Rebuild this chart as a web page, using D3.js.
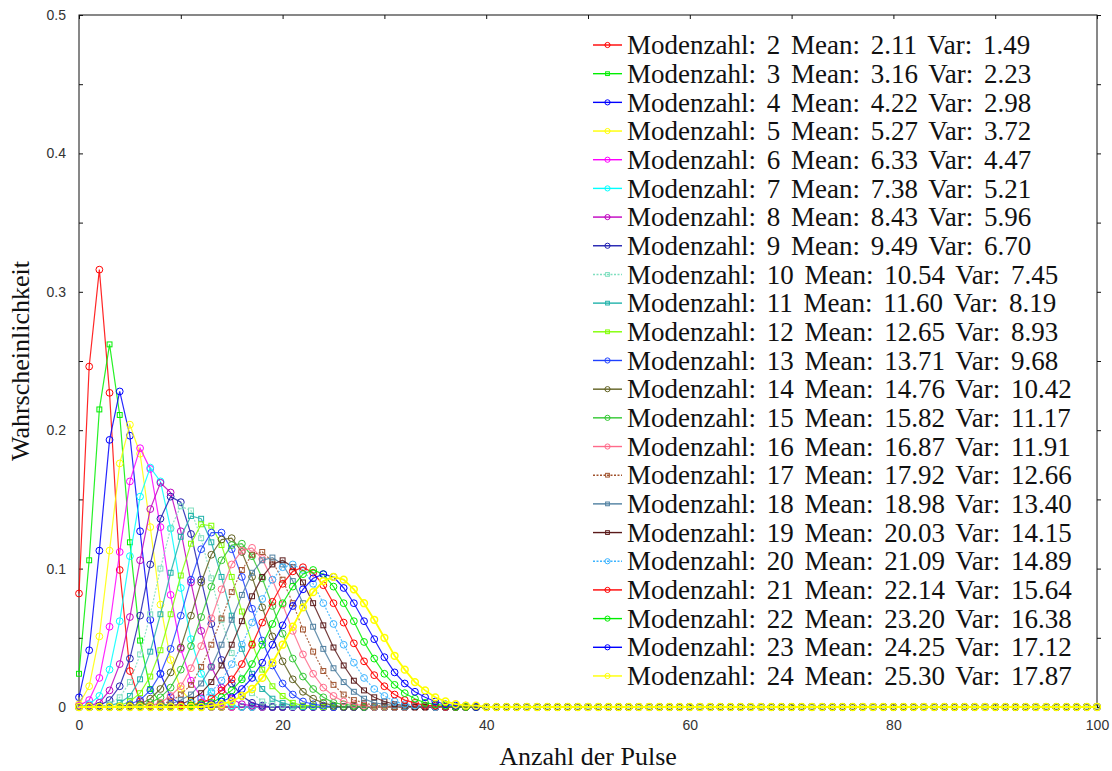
<!DOCTYPE html>
<html>
<head>
<meta charset="utf-8">
<script src="https://cdn.jsdelivr.net/npm/d3@7/dist/d3.min.js"></script>
<style>
  html, body { margin: 0; padding: 0; background: #fff; }
  svg { display: block; }
  .tick text { font-family: "Liberation Sans", Arial, sans-serif; font-size: 14px; fill: #333; }
  .legend text, .title { font-family: "Liberation Serif", "Times New Roman", serif; fill: #111; }
</style>
</head>
<body>
<svg id="chart" width="1112" height="771"></svg>
<script>
// Mode counts shown in the legend, with the stated mean and variance
const modes = [2, 3, 4, 5, 6, 7, 8, 9, 10, 11, 12, 13, 14, 15, 16, 17, 18, 19, 20, 21, 22, 23, 24];
const means = ["2.11", "3.16", "4.22", "5.27", "6.33", "7.38", "8.43", "9.49", "10.54", "11.60", "12.65", "13.71",
               "14.76", "15.82", "16.87", "17.92", "18.98", "20.03", "21.09", "22.14", "23.20", "24.25", "25.30"];
const variances = ["1.49", "2.23", "2.98", "3.72", "4.47", "5.21", "5.96", "6.70", "7.45", "8.19", "8.93", "9.68",
                   "10.42", "11.17", "11.91", "12.66", "13.40", "14.15", "14.89", "15.64", "16.38", "17.12", "17.87"];

// Pulse counts on the x axis (0 … 100)
const pulses = d3.range(0, 101);
const xTicks = [0, 20, 40, 60, 80, 100];
const yTicks = [0, 0.1, 0.2, 0.3, 0.4, 0.5];

// Probability per pulse count, starting at 0 pulses; counts past the list have probability 0
const pMode2  = [0.082, 0.246, 0.316, 0.227, 0.099, 0.026, 0.004];
const pMode3  = [0.024, 0.106, 0.215, 0.262, 0.211, 0.119, 0.048, 0.013, 0.003];
const pMode4  = [0.007, 0.041, 0.113, 0.193, 0.228, 0.196, 0.127, 0.063, 0.024, 0.007, 0.002];
const pMode5  = [0.002, 0.015, 0.051, 0.113, 0.176, 0.204, 0.183, 0.130, 0.074, 0.034, 0.013, 0.004, 0.001];
const pMode6  = [0.001, 0.005, 0.021, 0.058, 0.112, 0.163, 0.187, 0.172, 0.130, 0.081, 0.042, 0.019, 0.007, 0.002, 0.001];
const pMode7  = [0, 0.002, 0.008, 0.027, 0.062, 0.109, 0.152, 0.173, 0.163, 0.129, 0.086, 0.049, 0.024, 0.010, 0.004, 0.001];
const pMode8  = [0, 0.001, 0.003, 0.012, 0.031, 0.065, 0.106, 0.143, 0.162, 0.155, 0.127, 0.090, 0.055, 0.029, 0.014, 0.006, 0.002, 0.001];
const pMode9  = [0, 0, 0.001, 0.005, 0.015, 0.035, 0.066, 0.103, 0.136, 0.152, 0.148, 0.125, 0.092, 0.060, 0.034, 0.017, 0.008, 0.003, 0.001];
const pMode10 = [0, 0, 0, 0.002, 0.007, 0.018, 0.038, 0.067, 0.100, 0.129, 0.145, 0.142, 0.122, 0.093, 0.063, 0.039, 0.021, 0.010, 0.004, 0.002, 0.001];
const pMode11 = [0, 0, 0, 0.001, 0.003, 0.008, 0.020, 0.040, 0.067, 0.097, 0.123, 0.138, 0.136, 0.119, 0.094, 0.066, 0.042, 0.024, 0.013, 0.006, 0.003, 0.001];
const pMode12 = [0, 0, 0, 0, 0.001, 0.004, 0.010, 0.022, 0.041, 0.067, 0.095, 0.118, 0.132, 0.131, 0.117, 0.094, 0.069, 0.046, 0.027, 0.015, 0.008, 0.003, 0.001, 0.001];
const pMode13 = [0, 0, 0, 0, 0, 0.002, 0.005, 0.012, 0.024, 0.042, 0.066, 0.092, 0.114, 0.126, 0.126, 0.114, 0.094, 0.071, 0.048, 0.030, 0.017, 0.009, 0.004, 0.002, 0.001];
const pMode14 = [0, 0, 0, 0, 0, 0.001, 0.002, 0.006, 0.013, 0.025, 0.043, 0.066, 0.090, 0.110, 0.121, 0.122, 0.112, 0.094, 0.072, 0.051, 0.033, 0.020, 0.011, 0.006, 0.003, 0.001];
const pMode15 = [0, 0, 0, 0, 0, 0, 0.001, 0.003, 0.007, 0.014, 0.027, 0.044, 0.065, 0.087, 0.106, 0.117, 0.118, 0.109, 0.093, 0.073, 0.053, 0.035, 0.022, 0.013, 0.007, 0.003, 0.002, 0.001];
const pMode16 = [0, 0, 0, 0, 0, 0, 0, 0.001, 0.003, 0.008, 0.015, 0.028, 0.044, 0.064, 0.085, 0.103, 0.113, 0.115, 0.107, 0.092, 0.074, 0.055, 0.038, 0.024, 0.014, 0.008, 0.004, 0.002, 0.001];
const pMode17 = [0, 0, 0, 0, 0, 0, 0, 0.001, 0.002, 0.004, 0.009, 0.016, 0.029, 0.045, 0.064, 0.083, 0.099, 0.110, 0.112, 0.105, 0.092, 0.075, 0.056, 0.040, 0.026, 0.016, 0.009, 0.005, 0.003, 0.001, 0.001];
const pMode18 = [0, 0, 0, 0, 0, 0, 0, 0, 0.001, 0.002, 0.005, 0.009, 0.017, 0.029, 0.045, 0.063, 0.081, 0.097, 0.106, 0.108, 0.103, 0.091, 0.075, 0.058, 0.042, 0.028, 0.018, 0.011, 0.006, 0.003, 0.002, 0.001];
const pMode19 = [0, 0, 0, 0, 0, 0, 0, 0, 0, 0.001, 0.002, 0.005, 0.010, 0.018, 0.030, 0.045, 0.062, 0.080, 0.094, 0.103, 0.106, 0.101, 0.090, 0.075, 0.059, 0.043, 0.030, 0.019, 0.012, 0.007, 0.004, 0.002, 0.001];
const pMode20 = [0, 0, 0, 0, 0, 0, 0, 0, 0, 0, 0.001, 0.003, 0.006, 0.011, 0.019, 0.031, 0.045, 0.061, 0.078, 0.092, 0.101, 0.103, 0.099, 0.089, 0.075, 0.060, 0.045, 0.032, 0.021, 0.013, 0.008, 0.004, 0.002, 0.001, 0.001];
const pMode21 = [0, 0, 0, 0, 0, 0, 0, 0, 0, 0, 0.001, 0.001, 0.003, 0.006, 0.012, 0.020, 0.031, 0.045, 0.061, 0.076, 0.089, 0.098, 0.101, 0.097, 0.088, 0.075, 0.061, 0.046, 0.033, 0.023, 0.015, 0.009, 0.005, 0.003, 0.001, 0.001];
const pMode22 = [0, 0, 0, 0, 0, 0, 0, 0, 0, 0, 0, 0.001, 0.002, 0.003, 0.007, 0.012, 0.020, 0.031, 0.045, 0.060, 0.075, 0.087, 0.096, 0.099, 0.096, 0.087, 0.075, 0.062, 0.047, 0.035, 0.024, 0.016, 0.010, 0.006, 0.003, 0.002, 0.001];
const pMode23 = [0, 0, 0, 0, 0, 0, 0, 0, 0, 0, 0, 0, 0.001, 0.002, 0.004, 0.007, 0.013, 0.021, 0.032, 0.045, 0.059, 0.073, 0.085, 0.093, 0.096, 0.094, 0.086, 0.075, 0.062, 0.049, 0.036, 0.025, 0.017, 0.011, 0.007, 0.004, 0.002, 0.001, 0.001];
const pMode24 = [0, 0, 0, 0, 0, 0, 0, 0, 0, 0, 0, 0, 0, 0.001, 0.002, 0.004, 0.008, 0.013, 0.021, 0.032, 0.045, 0.058, 0.072, 0.083, 0.091, 0.094, 0.092, 0.085, 0.075, 0.063, 0.050, 0.037, 0.027, 0.018, 0.012, 0.007, 0.004, 0.002, 0.001, 0.001];

const seriesValues = [pMode2, pMode3, pMode4, pMode5, pMode6, pMode7, pMode8, pMode9, pMode10, pMode11, pMode12,
                      pMode13, pMode14, pMode15, pMode16, pMode17, pMode18, pMode19, pMode20, pMode21, pMode22, pMode23, pMode24];

// Styling per series
const colors = ["#ff0000", "#00ee00", "#0000ff", "#ffff00", "#ff00ff", "#00ffff", "#c000c0", "#2020b0",
                "#7fdfbf", "#20b2aa", "#7fff00", "#1e40ff", "#606020", "#32c832", "#ff6a8a", "#a0522d",
                "#4f7fa0", "#5a1a1a", "#3cb4ff", "#ff0000", "#00ee00", "#0000ff", "#ffff00"];
const squareMarker = new Set([3, 10, 11, 12, 17, 18, 19]);
const dottedLine = new Set([10, 17, 20]);

const svg = d3.select("#chart");
const margin = { left: 79, right: 1097, top: 15, bottom: 707 };

const x = d3.scaleLinear().domain([0, 100]).range([margin.left, margin.right]);
const y = d3.scaleLinear().domain([0, 0.5]).range([margin.bottom, margin.top]);

// Axes: labelled ticks plus small inner ticks on all four sides
const fmt = d3.format("~g");
const isLabelledX = d => xTicks.includes(d);
const isLabelledY = d => yTicks.some(t => Math.abs(t - d) < 1e-9);

svg.append("g")
  .attr("transform", `translate(0,${margin.bottom})`)
  .call(d3.axisBottom(x).tickValues(d3.range(0, 101, 10)).tickSize(-4).tickPadding(13)
        .tickFormat(d => isLabelledX(d) ? fmt(d) : ""))
  .call(g => g.select(".domain").remove())
  .call(g => g.selectAll(".tick line").attr("stroke", "#111"));

svg.append("g")
  .attr("transform", `translate(${margin.left},0)`)
  .call(d3.axisLeft(y).tickValues(d3.range(0, 0.5001, 0.05)).tickSize(-4).tickPadding(13)
        .tickFormat(d => isLabelledY(d) ? fmt(+d.toFixed(2)) : ""))
  .call(g => g.select(".domain").remove())
  .call(g => g.selectAll(".tick line").attr("stroke", "#111"));

svg.append("g")
  .attr("transform", `translate(0,${margin.top})`)
  .call(d3.axisTop(x).tickValues(d3.range(0, 101, 10)).tickSize(-4).tickFormat(""))
  .call(g => g.select(".domain").remove())
  .call(g => g.selectAll(".tick line").attr("stroke", "#111"));

svg.append("g")
  .attr("transform", `translate(${margin.right},0)`)
  .call(d3.axisRight(y).tickValues(d3.range(0, 0.5001, 0.05)).tickSize(4).tickFormat(""))
  .call(g => g.select(".domain").remove())
  .call(g => g.selectAll(".tick line").attr("stroke", "#111"));

// Plot frame
svg.append("rect")
  .attr("x", margin.left).attr("y", margin.top)
  .attr("width", margin.right - margin.left).attr("height", margin.bottom - margin.top)
  .attr("fill", "none").attr("stroke", "#111").attr("stroke-width", 1);

// Axis titles
svg.append("text").attr("class", "title")
  .attr("x", (margin.left + margin.right) / 2).attr("y", 765)
  .attr("text-anchor", "middle").attr("font-size", 26)
  .text("Anzahl der Pulse");

svg.append("text").attr("class", "title")
  .attr("transform", `translate(29,${(margin.top + margin.bottom) / 2}) rotate(-90)`)
  .attr("text-anchor", "middle").attr("font-size", 26)
  .text("Wahrscheinlichkeit");

// Series lines with a marker at every pulse count
const line = d3.line().x(d => x(d.k)).y(d => y(d.p));

function drawMarker(sel, m, color, size, width) {
  if (squareMarker.has(m)) {
    const h = size * 0.72;
    sel.append("rect").attr("x", -h).attr("y", -h).attr("width", 2 * h).attr("height", 2 * h)
      .attr("fill", "none").attr("stroke", color).attr("stroke-width", width);
  } else {
    sel.append("circle").attr("r", size)
      .attr("fill", "none").attr("stroke", color).attr("stroke-width", width);
  }
}

const plot = svg.append("g");
const lastMode = modes[modes.length - 1];
modes.forEach((m, i) => {
  const vals = seriesValues[i];
  const pts = pulses.map(k => ({ k, p: vals[k] ?? 0 }));
  const color = colors[i];
  // the series drawn last sits on top of the shared zero baseline
  const onTop = m === lastMode;
  const g = plot.append("g");
  g.append("path").datum(pts)
    .attr("d", line)
    .attr("fill", "none")
    .attr("stroke", color)
    .attr("stroke-width", onTop ? 1.8 : 1.2)
    .attr("stroke-opacity", onTop ? 1 : 0.85)
    .attr("stroke-dasharray", dottedLine.has(m) ? "2,1.5" : null);
  g.selectAll("g.pt").data(pts).join("g")
    .attr("class", "pt")
    .attr("transform", d => `translate(${x(d.k)},${y(d.p)})`)
    .each(function () { drawMarker(d3.select(this), m, color, 3.4, onTop ? 1.5 : 1); });
});

// Legend
const legend = svg.append("g").attr("class", "legend");
const rowStep = 28.68;
modes.forEach((m, i) => {
  const cy = 45 + i * rowStep;
  const color = colors[i];
  const row = legend.append("g").attr("transform", `translate(0,${cy})`);
  row.append("line").attr("x1", 593).attr("x2", 622).attr("y1", 0).attr("y2", 0)
    .attr("stroke", color).attr("stroke-width", 1.4)
    .attr("stroke-dasharray", dottedLine.has(m) ? "2,1.5" : null);
  const mk = row.append("g").attr("transform", "translate(607.5,0)");
  drawMarker(mk, m, color, 2.6, 1);
  row.append("text")
    .attr("x", 627).attr("y", 0).attr("dy", "0.34em")
    .attr("font-size", 27)
    .style("word-spacing", "4px")
    .text(`Modenzahl: ${m} Mean: ${means[i]} Var: ${variances[i]}`);
});
</script>
</body>
</html>
